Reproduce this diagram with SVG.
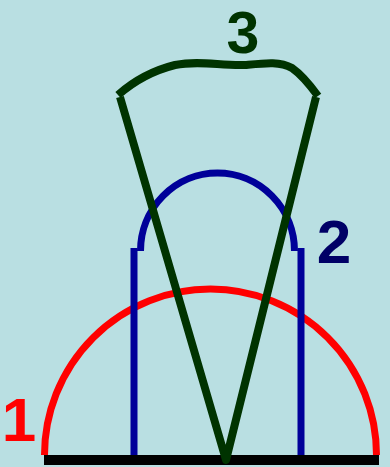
<svg xmlns="http://www.w3.org/2000/svg" width="390" height="467" viewBox="0 0 390 467">
<style>
.lbl{font-family:"Liberation Sans",Arial,sans-serif;font-weight:bold;font-size:62px;text-anchor:middle}
.g{fill:none;stroke:#003300;stroke-width:8;stroke-linejoin:round}
.b{fill:none;stroke:#000099;stroke-width:7}
.r{fill:none;stroke:#ff0000;stroke-width:7}
</style>
<rect width="390" height="467" fill="#b9dfe2"/>
<g id="connectors"></g>
<g id="node1">
<path class="r" d="M44.5,455 A166,166 0 0 1 376.5,455"/>
<text class="lbl" x="19" y="441" fill="#ff0000">1</text>
</g>
<g id="node2">
<line class="b" x1="134" y1="248" x2="134" y2="460"/>
<line class="b" x1="301" y1="248" x2="301" y2="460"/>
<path class="b" d="M140.5,251 A77,78 0 0 1 294.5,251"/>
<text class="lbl" x="334" y="263" fill="#000066">2</text>
</g>
<g id="baseline">
<rect x="44" y="455" width="335" height="10" fill="#000000"/>
</g>
<g id="node3">
<path class="g" d="M118,95 C135,80 155,70 175,65 C200,60 220,66 245,65 C265,63 280,61 292,68 C302,75 310,85 318,96"/>
<path class="g" d="M120,97 L226,460 L316,97"/>
<text class="lbl" x="243" y="53" fill="#003300" style="font-size:59px">3</text>
</g>
</svg>
